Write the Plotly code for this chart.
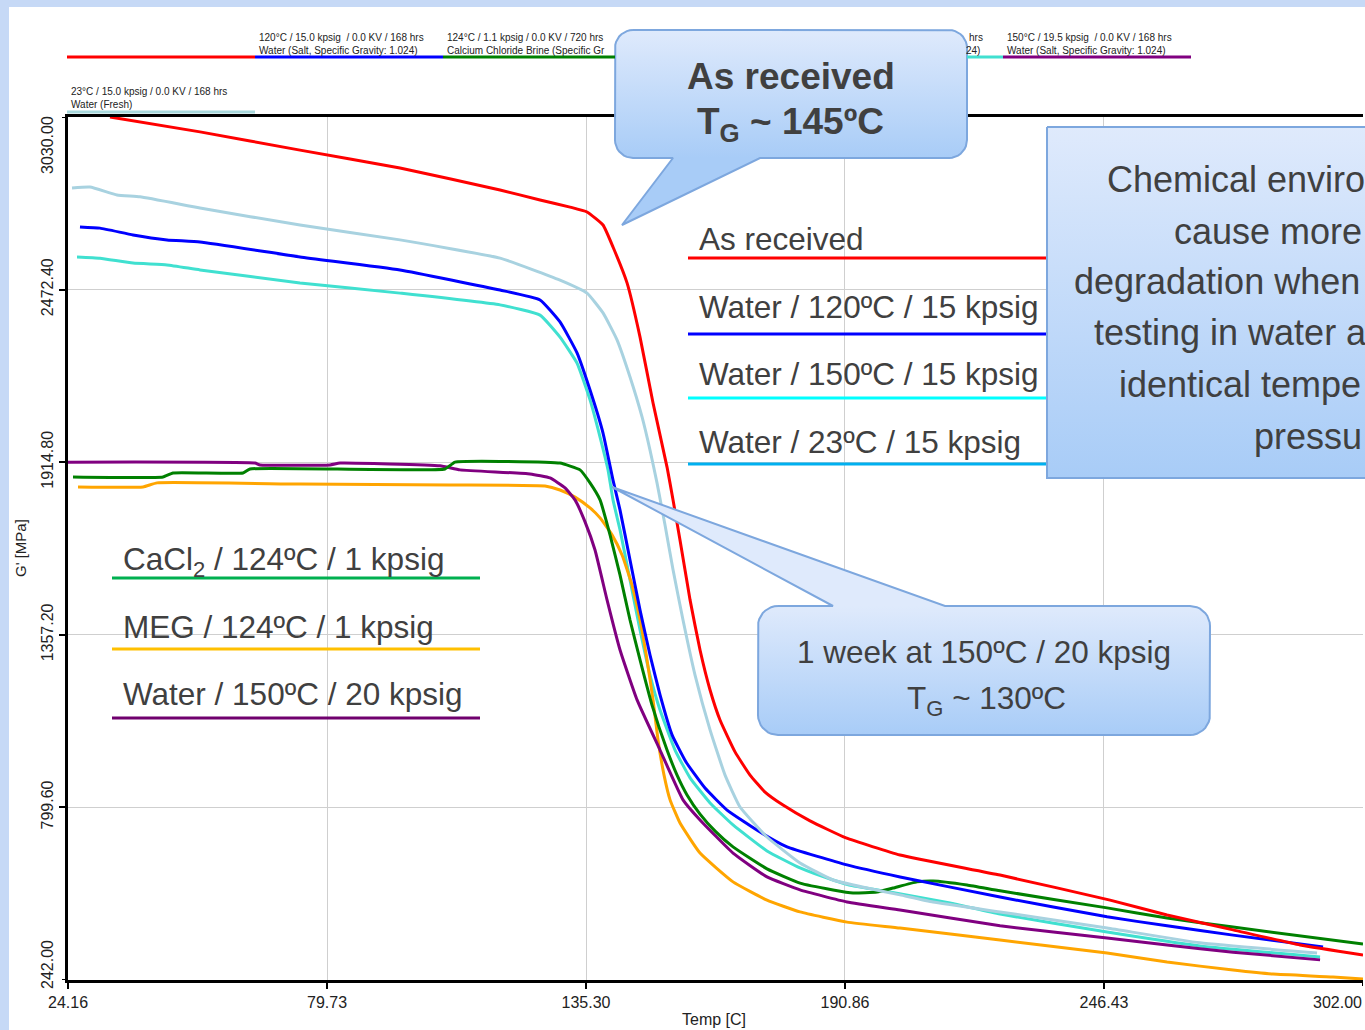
import numpy as np
import plotly.graph_objects as go

# ---------------- data ----------------
x_tick_vals = [24.16, 79.73, 135.30, 190.86, 246.43, 302.00]
x_tick_text = ["24.16", "79.73", "135.30", "190.86", "246.43", "302.00"]
y_tick_vals = [242.00, 799.60, 1357.20, 1914.80, 2472.40, 3030.00]
y_tick_text = ["242.00", "799.60", "1357.20", "1914.80", "2472.40", "3030.00"]

temp_as_received = [33.17, 52.48, 73.94, 95.39, 116.85, 125.43, 131.87, 135.52, 138.95, 141.09, 144.10,
                    146.89, 149.68, 152.68, 153.97, 155.47, 157.62, 159.76, 161.91, 164.05, 167.27, 170.49,
                    173.71, 177.57, 183.36, 191.09, 202.67, 224.13, 247.73, 259.96, 274.12, 288.50, 302.00]
g_as_received = [3030, 2982, 2923, 2865, 2794, 2762, 2739, 2723, 2681, 2610, 2494, 2319, 2106, 1899, 1793,
                 1663, 1470, 1308, 1179, 1082, 979, 904, 849, 807, 756, 701, 646, 581, 500, 452, 404, 355, 323]

temp_w23 = [25.02, 28.88, 34.67, 39.61, 52.48, 73.94, 95.39, 116.85, 129.72, 135.52, 138.95, 141.95, 144.74,
            147.32, 149.03, 150.53, 152.25, 153.97, 156.11, 158.69, 161.91, 165.13, 168.34, 174.13, 181.22,
            188.30, 195.59, 202.67, 209.76, 224.13, 247.09, 267.04, 292.14]
g_w23 = [2801, 2804, 2778, 2772, 2736, 2681, 2633, 2574, 2503, 2461, 2397, 2310, 2190, 2061, 1954, 1848,
         1712, 1567, 1405, 1227, 1050, 904, 801, 704, 620, 565, 539, 517, 494, 462, 410, 362, 329]

temp_w120 = [26.73, 31.03, 38.11, 45.40, 52.48, 73.94, 95.39, 116.85, 125.43, 129.72, 133.37, 136.16, 138.95,
             141.09, 142.60, 144.74, 146.89, 149.03, 151.18, 153.76, 156.76, 160.83, 165.56, 172.64, 178.43,
             191.30, 202.67, 224.13, 247.09, 259.96, 274.12, 293.43]
g_w120 = [2675, 2671, 2649, 2633, 2626, 2578, 2536, 2471, 2439, 2368, 2268, 2148, 2009, 1857, 1760, 1599,
          1437, 1292, 1163, 1034, 946, 862, 791, 720, 672, 614, 575, 510, 446, 417, 387, 349]

temp_w150 = [26.09, 31.03, 38.11, 45.40, 52.48, 73.94, 95.39, 116.85, 125.43, 129.72, 133.37, 136.16, 138.31,
             140.02, 141.09, 142.60, 144.74, 146.89, 149.03, 151.18, 154.40, 157.62, 161.91, 166.84, 174.13,
             181.22, 188.30, 192.59, 199.89, 213.40, 224.13, 247.09, 267.04, 292.79]
g_w150 = [2578, 2574, 2558, 2552, 2536, 2494, 2461, 2423, 2390, 2319, 2235, 2116, 1996, 1890, 1793, 1696,
          1534, 1373, 1227, 1114, 985, 895, 814, 743, 659, 604, 565, 546, 528, 491, 455, 397, 352, 316]

temp_w150_20 = [24.16, 64.28, 65.36, 80.38, 82.52, 103.98, 108.27, 123.29, 127.58, 130.80, 132.94, 135.09,
                137.23, 139.81, 142.60, 146.25, 151.18, 156.11, 159.76, 166.84, 174.13, 181.22, 191.30,
                202.67, 224.13, 247.09, 259.96, 274.12, 292.79]
g_w150_20 = [1915, 1912, 1906, 1906, 1912, 1903, 1890, 1877, 1864, 1832, 1793, 1722, 1631, 1470, 1308, 1147,
             985, 824, 759, 652, 575, 533, 494, 468, 417, 378, 355, 332, 307]

temp_cacl2 = [25.23, 44.54, 46.69, 61.71, 63.21, 105.05, 107.20, 126.51, 129.72, 134.01, 136.16, 138.31,
              140.45, 142.60, 144.74, 146.89, 149.46, 152.68, 154.83, 156.97, 159.76, 163.00, 166.84, 174.13,
              181.22, 188.30, 192.59, 197.74, 201.17, 206.32, 209.76, 217.05, 224.13, 247.09, 259.96, 274.12,
              302.00]
g_cacl2 = [1867, 1867, 1880, 1880, 1893, 1893, 1915, 1915, 1912, 1890, 1848, 1793, 1680, 1550, 1405, 1276,
           1130, 985, 904, 840, 778, 723, 672, 601, 555, 533, 523, 526, 539, 559, 562, 549, 530, 475, 442, 413,
           358]

temp_meg = [26.31, 40.25, 43.26, 73.94, 106.12, 126.51, 129.72, 132.94, 136.16, 138.31, 140.88, 143.03,
            145.17, 146.89, 148.39, 149.68, 150.75, 152.04, 153.33, 155.47, 159.76, 166.84, 174.13, 181.22,
            191.30, 202.67, 224.13, 247.09, 259.96, 274.12, 282.70, 295.58, 302.00]
g_meg = [1835, 1835, 1848, 1844, 1841, 1838, 1825, 1802, 1767, 1735, 1680, 1615, 1518, 1405, 1276, 1147,
         1017, 904, 824, 749, 652, 559, 500, 462, 429, 410, 371, 329, 300, 274, 261, 252, 245]

series = [
    ("Water / 150ºC / 15 kpsig", temp_w150, g_w150, "#40e0d0"),
    ("MEG / 124ºC / 1 kpsig", temp_meg, g_meg, "#ffa500"),
    ("Water / 150ºC / 20 kpsig", temp_w150_20, g_w150_20, "#800080"),
    ("CaCl2 / 124ºC / 1 kpsig", temp_cacl2, g_cacl2, "#008000"),
    ("Water / 120ºC / 15 kpsig", temp_w120, g_w120, "#0000ff"),
    ("Water / 23ºC / 15 kpsig", temp_w23, g_w23, "#a8d2e0"),
    ("As received", temp_as_received, g_as_received, "#ff0000"),
]

# ---------------- figure geometry (pixels) ----------------
W, H = 1365, 1030
PL, PR, PT, PB = 68, 1363, 117, 980
FONT = "Liberation Sans, Arial, sans-serif"
TXT = "#404040"
X_RANGE = [x_tick_vals[0], x_tick_vals[-1]]
Y_RANGE = [y_tick_vals[0], y_tick_vals[-1]]


def Y(py):
    return H - py


fig = go.Figure()

for name, xs, ys, col in series:
    fig.add_trace(go.Scatter(x=xs, y=ys, mode="lines", name=name,
                             line=dict(color=col, width=3, shape="spline", smoothing=0.4),
                             xaxis="x", yaxis="y", showlegend=False, hoverinfo="skip"))


def callout(x0, y0, x1, y1, r, pointer=None):
    pts = []

    def arc(cx, cy, a0, a1):
        for t in np.linspace(np.radians(a0), np.radians(a1), 10):
            pts.append((cx + r * np.cos(t), cy + r * np.sin(t)))

    pts.append((x0 + r, y0))
    if pointer and pointer[0] == "top":
        pts.extend(pointer[1])
    arc(x1 - r, y0 + r, -90, 0)
    arc(x1 - r, y1 - r, 0, 90)
    if pointer and pointer[0] == "bottom":
        pts.extend(pointer[1])
    arc(x0 + r, y1 - r, 90, 180)
    arc(x0 + r, y0 + r, 180, 270)
    pts.append(pts[0])
    xs = [p[0] for p in pts]
    ys = [Y(p[1]) for p in pts]
    fig.add_trace(go.Scatter(
        x=xs, y=ys, mode="lines", fill="toself", xaxis="x2", yaxis="y2",
        fillgradient=dict(type="vertical", colorscale=[[0, "#a8ccf7"], [1, "#dfeafc"]],
                          start=Y(y1), stop=Y(y0)),
        line=dict(color="#7da7de", width=2), showlegend=False, hoverinfo="skip"))


callout(615, 30, 967, 158, 18, ("bottom", [(760, 158), (622, 225), (673, 158)]))
callout(758, 606, 1210, 735, 20, ("top", [(833, 606), (612, 487), (945, 606)]))
callout(1047, 127, 1420, 478, 0)

shapes = []
# slide border
shapes.append(dict(type="rect", xref="x2", yref="y2", x0=0, x1=9, y0=Y(1030), y1=Y(0),
                   fillcolor="#c6d9f6", line=dict(width=0), layer="below"))
shapes.append(dict(type="rect", xref="x2", yref="y2", x0=0, x1=W, y0=Y(7), y1=Y(0),
                   fillcolor="#c6d9f6", line=dict(width=0), layer="below"))

# tick marks at the ends of the axes (their labels are drawn separately)
for yv in (y_tick_vals[0], y_tick_vals[-1]):
    shapes.append(dict(type="line", xref="x domain", yref="y", x0=-6 / (PR - PL), x1=0, y0=yv, y1=yv,
                       line=dict(color="black", width=2), layer="above"))
shapes.append(dict(type="line", xref="x", yref="y domain", x0=x_tick_vals[-1], x1=x_tick_vals[-1],
                   y0=-6 / (PB - PT), y1=0, line=dict(color="black", width=2), layer="above"))


def hline(x0, x1, y, col, w=3):
    shapes.append(dict(type="line", xref="x2", yref="y2", x0=x0, x1=x1, y0=Y(y), y1=Y(y),
                       line=dict(color=col, width=w), layer="above"))


annotations = []


def text(x, y, s, size, col=TXT, xanchor="left", bold=False, angle=0):
    annotations.append(dict(xref="x2", yref="y2", x=x, y=Y(y), text=s, showarrow=False,
                            xanchor=xanchor, yanchor="middle", textangle=angle,
                            font=dict(family=FONT, size=size, color=col,
                                      weight="bold" if bold else "normal")))


# top legend (instrument export)
hline(67, 255, 57, "#ff0000")
hline(255, 443, 57, "#0000ff")
hline(443, 615, 57, "#008000")
hline(967, 1003, 57, "#40e0d0")
hline(1003, 1191, 57, "#800080")
hline(67, 255, 112, "#a8d8dc")
small = "#222222"
text(257, 37, "120°C / 15.0 kpsig  / 0.0 KV / 168 hrs", 10, small)
text(257, 50, "Water (Salt, Specific Gravity: 1.024)", 10, small)
text(445, 37, "124°C / 1.1 kpsig / 0.0 KV / 720 hrs", 10, small)
text(445, 50, "Calcium Chloride Brine (Specific Gr", 10, small)
text(985, 37, "hrs", 10, small, xanchor="right")
text(982, 50, "24)", 10, small, xanchor="right")
text(1005, 37, "150°C / 19.5 kpsig  / 0.0 KV / 168 hrs", 10, small)
text(1005, 50, "Water (Salt, Specific Gravity: 1.024)", 10, small)
text(69, 91, "23°C / 15.0 kpsig / 0.0 KV / 168 hrs", 10, small)
text(69, 104, "Water (Fresh)", 10, small)

# axis titles
text(714, 1019, "Temp [C]", 16, "#222222", xanchor="center")
text(20, 548, "G' [MPa]", 15, "#222222", xanchor="center", angle=-90)

# end tick labels are nudged inside the window (as in the original export)
text(47, 965, y_tick_text[0], 16, "#222222", xanchor="center", angle=-90)
text(47, 145, y_tick_text[-1], 16, "#222222", xanchor="center", angle=-90)
text(1364, 1002, x_tick_text[-1], 16, "#222222", xanchor="right")

# in-plot labels (right group)
LS = 31.5
text(697, 239, "As received", LS)
hline(688, 1046, 258, "#ff0000")
text(697, 307, "Water / 120ºC / 15 kpsig", LS)
hline(688, 1046, 334, "#0000ff")
text(697, 374, "Water / 150ºC / 15 kpsig", LS)
hline(688, 1046, 398, "#00ffff")
text(697, 442, "Water / 23ºC / 15 kpsig", LS)
hline(688, 1046, 464, "#00b0f0")

# in-plot labels (left group)
text(121, 561, "CaCl<sub>2</sub> / 124ºC / 1 kpsig", LS)
hline(112, 480, 578, "#00b050")
text(121, 627, "MEG / 124ºC / 1 kpsig", LS)
hline(112, 480, 649, "#ffc000")
text(121, 694, "Water / 150ºC / 20 kpsig", LS)
hline(112, 480, 718, "#70006e")

# callout texts
text(791, 76, "As received", 37, xanchor="center", bold=True)
text(790, 124, "T<sub>G</sub> ~ 145ºC", 37, xanchor="center", bold=True)
text(984, 652, "1 week at 150ºC / 20 kpsig", 31.5, xanchor="center")
text(986, 700, "T<sub>G</sub> ~ 130ºC", 31.5, xanchor="center")

# right box text (the slide crops it at the window edge)
RB = 36
text(1105, 179, "Chemical enviro", RB)
text(1172, 231, "cause more", RB)
text(1072, 281, "degradation when", RB)
text(1092, 332, "testing in water a", RB)
text(1117, 384, "identical tempe", RB)
text(1252, 436, "pressu", RB)

axis_common = dict(showgrid=True, gridcolor="#cfcfcf", gridwidth=1, zeroline=False,
                   showline=True, linecolor="black", linewidth=2.5, automargin=False,
                   ticks="outside", ticklen=6, tickwidth=2, tickcolor="black",
                   tickfont=dict(family=FONT, size=16, color="#222222"))

fig.update_layout(
    template="none",
    width=W, height=H, autosize=False,
    margin=dict(l=0, r=0, t=0, b=0, pad=0, autoexpand=False),
    paper_bgcolor="white", plot_bgcolor="rgba(0,0,0,0)",
    xaxis=dict(domain=[PL / W, PR / W], range=X_RANGE, tickvals=x_tick_vals[:-1],
               ticktext=x_tick_text[:-1], mirror=True, anchor="y", **axis_common),
    yaxis=dict(domain=[(H - PB) / H, (H - PT) / H], range=Y_RANGE, tickvals=y_tick_vals[1:-1],
               ticktext=y_tick_text[1:-1], tickangle=-90, anchor="x", **axis_common),
    xaxis2=dict(domain=[0, 1], range=[0, W], visible=False, anchor="y2", fixedrange=True,
                automargin=False),
    yaxis2=dict(domain=[0, 1], range=[0, H], visible=False, anchor="x2", fixedrange=True,
                automargin=False),
    shapes=shapes, annotations=annotations, showlegend=False,
)

fig.write_html("out.html")
